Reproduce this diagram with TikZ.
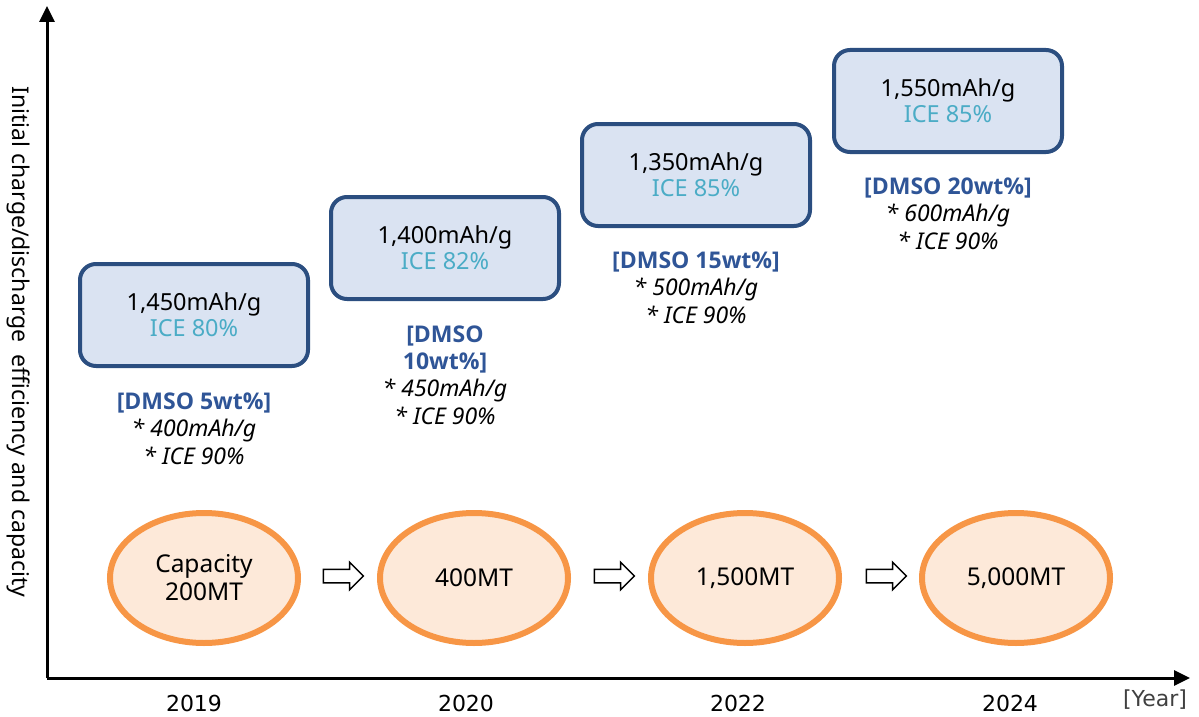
\documentclass[tikz,border=0pt]{standalone}
\usepackage{fontspec}
\setmainfont{Noto Sans}
\newfontfamily\boldsans{Open Sans}
\newfontfamily\axisfont{DejaVu Sans}
\usetikzlibrary{shapes.arrows,shapes.geometric,arrows.meta}
\definecolor{boxborder}{HTML}{2B4E80}
\definecolor{boxfill}{HTML}{DAE3F2}
\definecolor{iceblue}{HTML}{4BACC6}
\definecolor{dmso}{HTML}{2F5597}
\definecolor{ellborder}{HTML}{F79646}
\definecolor{ellfill}{HTML}{FDE9D9}
\newcommand{\dmsotxt}[1]{\textcolor{dmso}{\boldsans\bfseries #1}}
\tikzset{
  valbox/.style={draw=boxborder, line width=4pt, fill=boxfill, rounded corners=16pt,
    minimum width=228pt, minimum height=102pt, align=center,
    font=\fontsize{23.5}{26}\selectfont},
  note/.style={align=center, anchor=base, font=\fontsize{23}{27.3}\selectfont},
  capell/.style={ellipse, draw=ellborder, line width=6pt, fill=ellfill,
    minimum width=188pt, minimum height=130pt, inner sep=0pt, align=center,
    font=\fontsize{24.5}{28}\selectfont},
  flowarrow/.style={single arrow, draw=black, line width=1.5pt, fill=white,
    inner sep=0pt, inner ysep=6pt, minimum height=40pt, single arrow head extend=7pt,
    single arrow tip angle=90},
  yearlbl/.style={font=\axisfont\fontsize{22}{26}\selectfont},
  axis/.style={line width=3pt, -{Triangle[length=16pt,width=15pt]}}
}
\begin{document}
\begin{tikzpicture}[x=1pt,y=-1pt]
\useasboundingbox (0,0) rectangle (1199,717);
% axes
\coordinate (origin) at (47,678);
\coordinate (ytop) at (47,6);
\coordinate (xend) at (1190,678);
\draw[axis] (origin) -- (ytop);
\draw[axis] (origin) -- (xend);
\node[rotate=-90, font=\fontsize{23}{27}\selectfont] (ylab) at (19,342) {Initial charge/discharge\ \ efficiency and capacity};
% years
\node[yearlbl] (y2019) at (194,703) {2019};
\node[yearlbl] (y2020) at (466,703) {2020};
\node[yearlbl] (y2022) at (738,703) {2022};
\node[yearlbl] (y2024) at (1010,703) {2024};
\node[yearlbl, text=black!75] (yr) at (1155,700) {[Year]};
% value boxes
\node[valbox] (b1) at (194,315) {1,450mAh/g\\\textcolor{iceblue}{ICE 80\%}};
\node[valbox] (b2) at (445,248) {1,400mAh/g\\\textcolor{iceblue}{ICE 82\%}};
\node[valbox] (b3) at (696,175) {1,350mAh/g\\\textcolor{iceblue}{ICE 85\%}};
\node[valbox] (b4) at (948,101) {1,550mAh/g\\\textcolor{iceblue}{ICE 85\%}};
% notes (anchored at baseline of last line)
\node[note] (n1) at (194,464) {\dmsotxt{[DMSO 5wt\%]}\\\textit{* 400mAh/g}\\\textit{* ICE 90\%}};
\node[note] (n2) at (445,424) {\dmsotxt{[DMSO}\\\dmsotxt{10wt\%]}\\\textit{* 450mAh/g}\\\textit{* ICE 90\%}};
\node[note] (n3) at (696,323) {\dmsotxt{[DMSO 15wt\%]}\\\textit{* 500mAh/g}\\\textit{* ICE 90\%}};
\node[note] (n4) at (948,249) {\dmsotxt{[DMSO 20wt\%]}\\\textit{* 600mAh/g}\\\textit{* ICE 90\%}};
% capacity ellipses
\node[capell] (e1) at (204,578) {Capacity\\200MT};
\node[capell] (e2) at (474,578) {400MT};
\node[capell] (e3) at (745,578) {1,500MT};
\node[capell] (e4) at (1016,578) {5,000MT};
% arrows between ellipses
\node[flowarrow] (a1) at (340,576) {};
\node[flowarrow] (a2) at (611,576) {};
\node[flowarrow] (a3) at (883,576) {};
\end{tikzpicture}
\end{document}
